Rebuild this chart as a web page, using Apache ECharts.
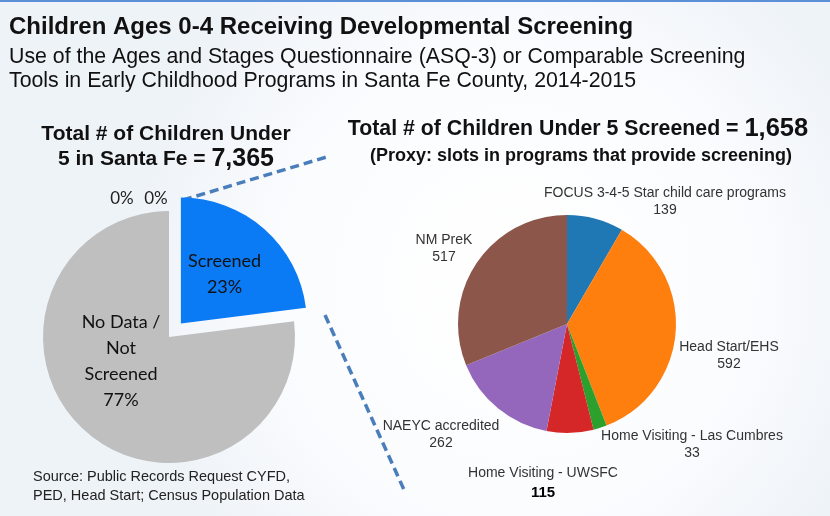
<!DOCTYPE html>
<html>
<head>
<meta charset="utf-8">
<title>Children Ages 0-4 Receiving Developmental Screening</title>
<script src="https://cdn.jsdelivr.net/npm/echarts@6/dist/echarts.min.js"></script>
<style>
  html, body { margin: 0; padding: 0; }
  #chart { width: 830px; height: 516px; }
</style>
</head>
<body>
<div id="chart"></div>
<script>
    // left pie: share of children under 5 in Santa Fe
    var shareNames = ['Screened', 'No Data /\nNot\nScreened', 'zeroA', 'zeroB'];
    var shareValues = [23, 77, 0, 0];
    var shareColors = ['#0a7bf5', '#bfbfbf', '#bfbfbf', '#bfbfbf'];

    // right pie: children screened by program
    var programNames = [
        'FOCUS 3-4-5 Star child care programs',
        'Head Start/EHS',
        'Home Visiting - Las Cumbres',
        'Home Visiting - UWSFC',
        'NAEYC accredited',
        'NM PreK'
    ];
    var programValues = [139, 592, 33, 115, 262, 517];
    var programColors = ['#1f77b4', '#ff7f0e', '#2ca02c', '#d62728', '#9467bd', '#8c564b'];

    var totalChildren = '7,365';
    var totalScreened = '1,658';

    // label spots (layout only)
    var shareLabelPos = [[229, 280], [121, 361], [122, 199], [156, 199]];
    var programLabelPos = [[665, 202], [729, 356], [692, 445], [543, 483], [441, 435], [444, 249]];

    var myChart = echarts.init(document.getElementById('chart'));

    var shareData = shareNames.map(function (n, i) {
        var item = {name: n, value: shareValues[i], itemStyle: {color: shareColors[i]}};
        if (i === 0) {
            item.selected = true;
        }
        if (i >= 2) {
            item.label = {position: 'outside', formatter: '0%', color: '#222', fontSize: 17};
            item.labelLine = {show: false};
        }
        return item;
    });

    var programData = programNames.map(function (n, i) {
        var item = {name: n, value: programValues[i], itemStyle: {color: programColors[i]}};
        if (i === 3) {
            item.label = {
                formatter: '{a|{b}}\n{v|{c}}',
                rich: {
                    a: {fontSize: 14, color: '#333', lineHeight: 20, fontFamily: 'Liberation Sans'},
                    v: {fontSize: 15, color: '#000', fontWeight: 'bold', lineHeight: 20, fontFamily: 'Liberation Sans'}
                }
            };
        }
        return item;
    });

    var option = {
        backgroundColor: {
            type: 'radial', x: 0.62, y: 0.55, r: 0.75,
            colorStops: [{offset: 0, color: '#ffffff'}, {offset: 0.6, color: '#fbfcfe'}, {offset: 1, color: '#eef3f8'}]
        },
        animation: false,
        graphic: [
            {type: 'rect', shape: {x: 0, y: 0, width: 830, height: 2}, style: {fill: '#5b8fd6'}},
            {
                type: 'text', x: 9, y: 27,
                style: {text: 'Children Ages 0-4 Receiving Developmental Screening', font: 'bold 24px "Liberation Sans"', fill: '#111', verticalAlign: 'middle'}
            },
            {
                type: 'text', x: 9, y: 57,
                style: {text: 'Use of the Ages and Stages Questionnaire (ASQ-3) or Comparable Screening', font: '21.3px "Liberation Sans"', fill: '#111', verticalAlign: 'middle'}
            },
            {
                type: 'text', x: 9, y: 81,
                style: {text: 'Tools in Early Childhood Programs in Santa Fe County, 2014-2015', font: '21.3px "Liberation Sans"', fill: '#111', verticalAlign: 'middle'}
            },
            {
                type: 'text', x: 166, y: 147,
                style: {
                    text: '{t|Total # of Children Under}\n{t|5 in Santa Fe = }{n|' + totalChildren + '}',
                    align: 'center', verticalAlign: 'middle',
                    rich: {
                        t: {font: 'bold 21px "Liberation Sans"', fill: '#111', lineHeight: 25},
                        n: {font: 'bold 25px "Liberation Sans"', fill: '#111', lineHeight: 25}
                    }
                }
            },
            {
                type: 'text', x: 578, y: 129,
                style: {
                    text: '{t|Total # of Children Under 5 Screened = }{n|' + totalScreened + '}',
                    align: 'center', verticalAlign: 'middle',
                    rich: {
                        t: {font: 'bold 21.3px "Liberation Sans"', fill: '#111'},
                        n: {font: 'bold 25.5px "Liberation Sans"', fill: '#111'}
                    }
                }
            },
            {
                type: 'text', x: 581, y: 156,
                style: {
                    text: '(Proxy: slots in programs that provide screening)',
                    font: 'bold 18px "Liberation Sans"', fill: '#111', align: 'center', verticalAlign: 'middle'
                }
            },
            {
                type: 'text', left: 33, top: 467,
                style: {
                    text: 'Source: Public Records Request CYFD,\nPED, Head Start; Census Population Data',
                    font: '14.5px "Liberation Sans"', fill: '#222', lineHeight: 19
                }
            },
            {
                type: 'line', shape: {x1: 183, y1: 200, x2: 330, y2: 156},
                style: {stroke: '#4a7ebb', lineWidth: 3.5, lineDash: [9, 5]}
            },
            {
                type: 'line', shape: {x1: 325, y1: 315, x2: 405, y2: 492},
                style: {stroke: '#4a7ebb', lineWidth: 3.5, lineDash: [9, 5]}
            }
        ],
        series: [
            {
                name: 'share',
                type: 'pie',
                center: [169, 337],
                radius: [0, 126],
                startAngle: 90,
                clockwise: true,
                selectedMode: 'single',
                selectedOffset: 18,
                avoidLabelOverlap: false,
                stillShowZeroSum: true,
                label: {
                    show: true,
                    position: 'inside',
                    formatter: '{b}\n{c}%',
                    fontFamily: 'Lato',
                    fontSize: 18,
                    lineHeight: 26,
                    color: '#111'
                },
                labelLine: {show: false},
                labelLayout: function (p) {
                    var pos = shareLabelPos[p.dataIndex];
                    return {x: pos[0], y: pos[1], align: 'center', verticalAlign: 'middle'};
                },
                emphasis: {disabled: true},
                data: shareData
            },
            {
                name: 'programs',
                type: 'pie',
                center: [567, 324],
                radius: [0, 109],
                startAngle: 90,
                clockwise: true,
                avoidLabelOverlap: false,
                label: {
                    show: true,
                    position: 'outside',
                    formatter: '{b}\n{c}',
                    fontFamily: 'Liberation Sans',
                    fontSize: 14,
                    lineHeight: 17,
                    color: '#333'
                },
                labelLine: {show: false},
                labelLayout: function (p) {
                    var pos = programLabelPos[p.dataIndex];
                    return {x: pos[0], y: pos[1], align: 'center', verticalAlign: 'middle'};
                },
                emphasis: {disabled: true},
                data: programData
            }
        ]
    };

    myChart.setOption(option);
</script>
</body>
</html>
